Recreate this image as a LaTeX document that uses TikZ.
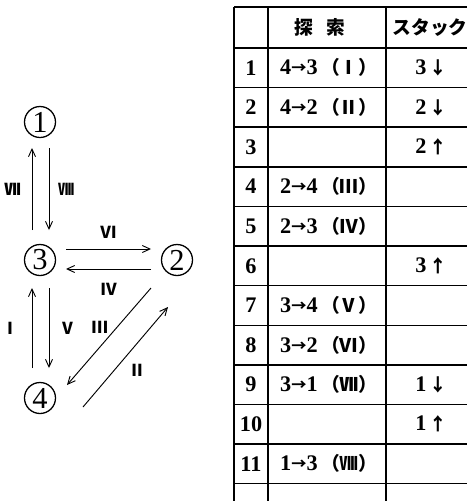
\documentclass[tikz,border=0pt]{standalone}
\usepackage{fontspec}
\setmainfont{Liberation Serif}
\newfontfamily\jp{Noto Sans CJK JP}
\usetikzlibrary{arrows.meta,positioning,calc}
% small CJK marks used in the table
\newcommand{\srto}{\raisebox{0.8pt}{\jp\fontsize{13}{13}\selectfont →}}
\newcommand{\rnum}[1]{{\jp\bfseries\fontsize{16}{16}\selectfont （#1）}}
\newcommand{\stdown}{\hspace{0.12em}{\jp\fontsize{15}{15}\selectfont ↓}}
\newcommand{\stup}{\hspace{0.12em}{\jp\fontsize{15}{15}\selectfont ↑}}

\begin{document}
\begin{tikzpicture}[x=0.03cm, y=-0.03cm,
    vertex/.style={circle, draw, line width=1.1pt, minimum size=0.93cm, inner sep=0pt,
                   font=\fontsize{26}{26}\selectfont},
    edge/.style={-{Straight Barb[length=6.5pt,width=6pt]}, line width=0.8pt},
    elabel/.style={font=\jp\bfseries\fontsize{14}{14}\selectfont, inner sep=0pt},
    cell/.style={font=\bfseries\fontsize{19}{22}\selectfont, inner sep=0pt},
    hcell/.style={font=\jp\bfseries\fontsize{16}{20}\selectfont, inner sep=0pt},
    rule/.style={line width=1.2pt}
  ]
  \useasboundingbox (0,0) rectangle (467,501);

  % graph
  \node[vertex] (c1) at (40,122) {1};
  \node[vertex] (c3) at (40,260) {3};
  \node[vertex] (c2) at (177,260) {2};
  \node[vertex] (c4) at (40,398) {4};

  \draw[edge] ($(c3)+(-8,-30)$) -- ($(c1)+(-8,26)$)
    node[midway, left=0.33cm, elabel] (lab7) {Ⅶ};
  \draw[edge] ($(c1)+(9,26)$) -- ($(c3)+(9,-30)$)
    node[midway, right=0.25cm, elabel] (lab8) {Ⅷ};
  \draw[edge] ($(c3)+(26,-11)$) -- ($(c2)+(-26,-11)$)
    node[midway, above=0.3cm, elabel] (lab6) {Ⅵ};
  \draw[edge] ($(c2)+(-26,9)$) -- ($(c3)+(26,9)$)
    node[midway, below=0.4cm, elabel] (lab4) {Ⅳ};
  \draw[edge] ($(c4)+(-8,-30)$) -- ($(c3)+(-8,28)$)
    node[midway, left=0.4cm, elabel] (lab1) {Ⅰ};
  \draw[edge] ($(c3)+(9,28)$) -- ($(c4)+(9,-30)$)
    node[midway, right=0.3cm, elabel] (lab5) {Ⅴ};
  \draw[edge] ($(c2)+(-26,28)$) -- ($(c4)+(27,-13)$)
    node[pos=0.41, left=0.24cm, elabel] (lab3) {Ⅲ};
  \draw[edge] ($(c4)+(43,9)$) -- ($(c2)+(-9,47)$)
    node[pos=0.37, right=0.42cm, elabel] (lab2) {Ⅱ};

  % table
  \foreach \yy in {7,48}
    \draw[rule] (234,\yy) -- (467,\yy);
  \foreach \k in {1,...,11}
    \draw[rule] (234,{48+39.6*\k}) -- (467,{48+39.6*\k});
  \foreach \xx in {234,268,386}
    \draw[rule] (\xx,7) -- (\xx,501);

  \node[hcell] (hsrch) at (320,27.5) {探\hspace{0.7em}索};
  \node[hcell] (hstk) at (430,27.5) {スタック};

  \foreach \n/\srch/\stk [evaluate=\n as \yc using 48+39.6*(\n-0.5)] in {
      1/{4\srto3\hspace{0.15em}\rnum{Ⅰ}}/{3\stdown},
      2/{4\srto2\hspace{0.15em}\rnum{Ⅱ}}/{2\stdown},
      3/{}/{2\stup},
      4/{2\srto4\hspace{0.15em}\rnum{Ⅲ}}/{},
      5/{2\srto3\hspace{0.15em}\rnum{Ⅳ}}/{},
      6/{}/{3\stup},
      7/{3\srto4\hspace{0.15em}\rnum{Ⅴ}}/{},
      8/{3\srto2\hspace{0.15em}\rnum{Ⅵ}}/{},
      9/{3\srto1\hspace{0.15em}\rnum{Ⅶ}}/{1\stdown},
      10/{}/{1\stup},
      11/{1\srto3\hspace{0.15em}\rnum{Ⅷ}}/{}} {
    \node[cell] (num\n) at (251,\yc) {\n};
    \node[cell, anchor=west] (srch\n) at (280,\yc) {\srch};
    \node[cell] (stk\n) at (431,\yc) {\stk};
  }
\end{tikzpicture}
\end{document}
